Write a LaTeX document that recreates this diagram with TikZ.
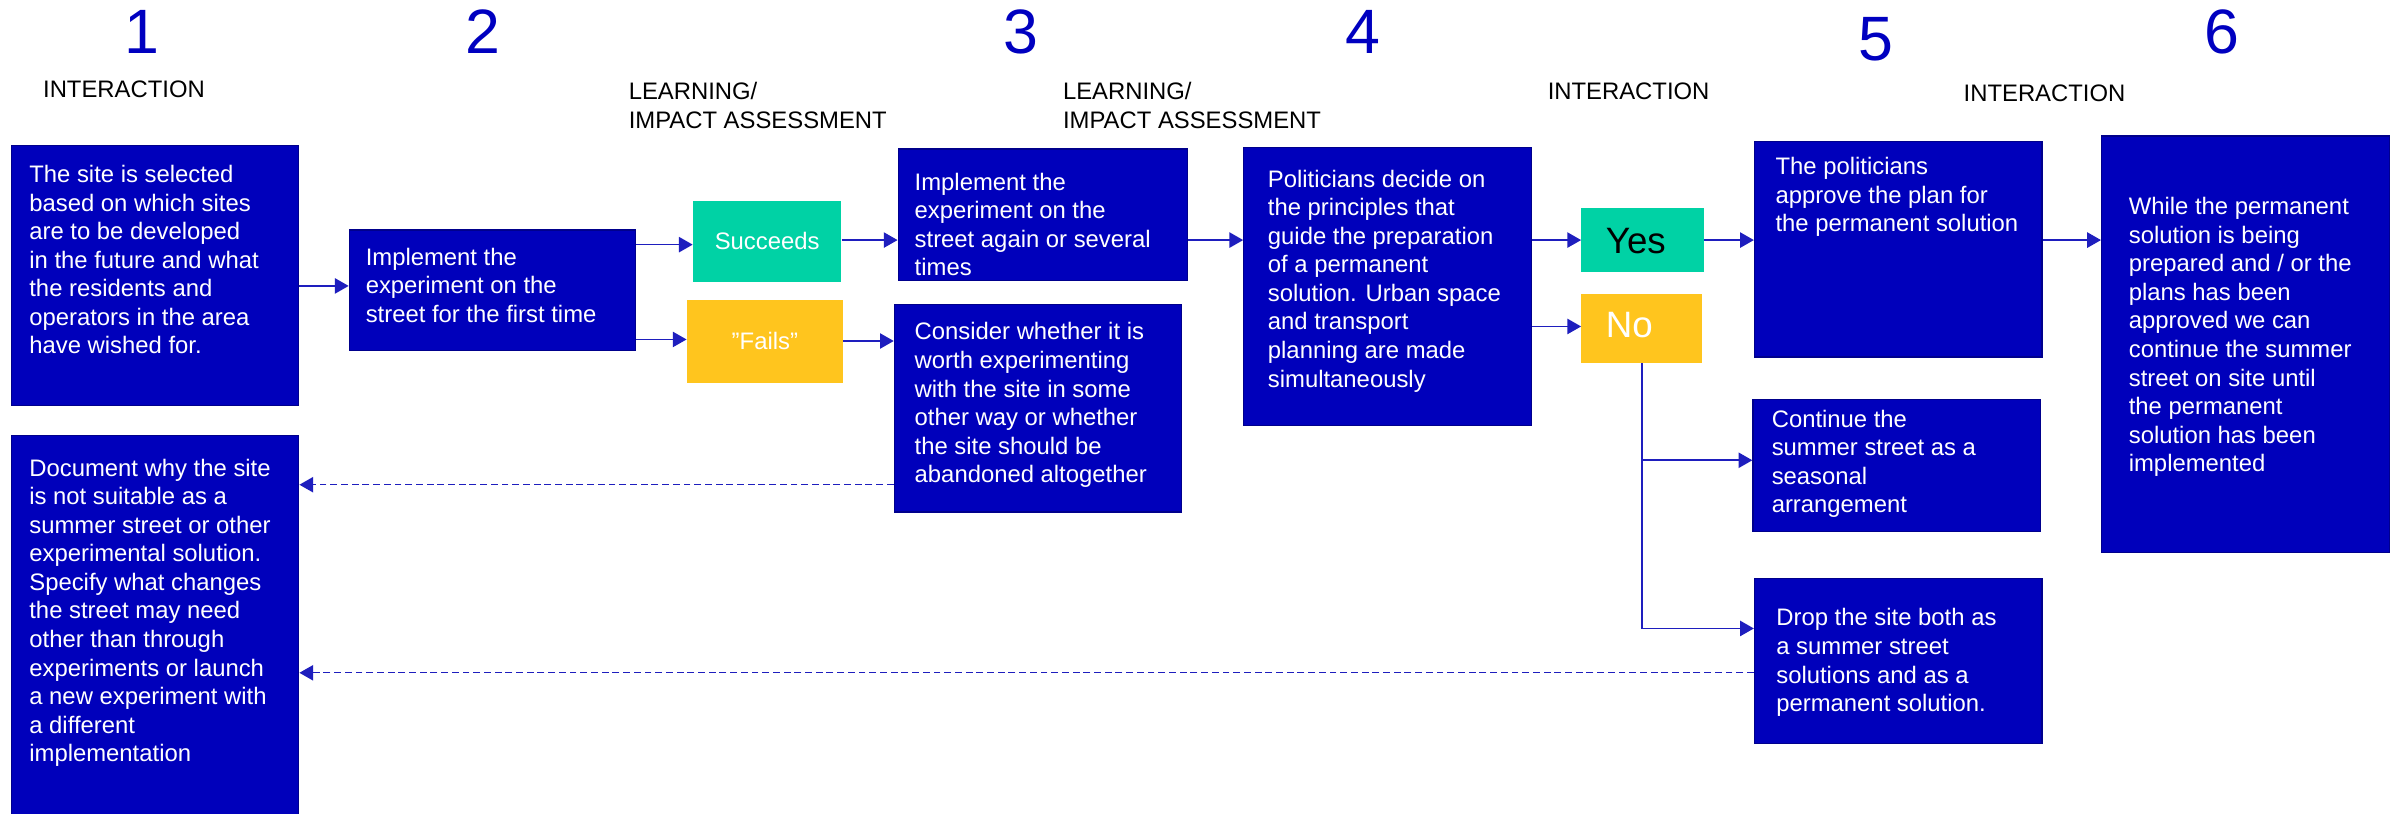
\documentclass[tikz,border=0pt]{standalone}
\usepackage{fontspec}
\setmainfont{Liberation Sans}
\usetikzlibrary{arrows.meta}
\definecolor{boxblue}{RGB}{0,0,187}
\definecolor{boxedge}{RGB}{0,0,140}
\definecolor{numblue}{RGB}{0,0,192}
\definecolor{okgreen}{RGB}{0,210,165}
\definecolor{okyellow}{RGB}{255,197,30}
\definecolor{linkblue}{RGB}{30,30,190}
\tikzset{
  bluebox/.style={draw=boxedge, line width=0.8pt, fill=boxblue, anchor=north west, inner sep=0pt},
  flagbox/.style={anchor=north west, inner sep=0pt, text=white, font=\fontsize{15.6}{18.7}\selectfont},
  boxtext/.style={anchor=north west, inner sep=0pt, text=white, align=left, font=\fontsize{15.6}{18.7}\selectfont},
  head/.style={anchor=north west, inner sep=0pt, align=left, font=\fontsize{15.6}{18.7}\selectfont},
  num/.style={anchor=base, inner sep=0pt, text=numblue, font=\fontsize{41}{45}\selectfont},
  bigword/.style={anchor=base west, inner sep=0pt, font=\fontsize{24}{28}\selectfont},
  arr/.style={draw=linkblue, line width=1pt, -{Triangle[length=9pt,width=10pt]}},
  dasharr/.style={arr, line width=0.9pt, dash pattern=on 4.5pt off 2.5pt},
}
\begin{document}
\begin{tikzpicture}[x=1pt,y=-1pt]
\useasboundingbox (0,0) rectangle (1567.6,532.3);
\fill[white] (0,0) rectangle (1567.6,532.3);

% step numbers
\node[num] (n1) at (92.5,35) {1};
\node[num] (n2) at (316,35) {2};
\node[num] (n3) at (667.5,35) {3};
\node[num] (n4) at (891,35) {4};
\node[num] (n5) at (1227,39.6) {5};
\node[num] (n6) at (1453,35) {6};

% phase headers
\node[head] (h1) at (28,52.8) {INTERACTION};
\node[head] (h2) at (411,53.8) {LEARNING/\\IMPACT ASSESSMENT};
\node[head] (h3) at (695,53.8) {LEARNING/\\IMPACT ASSESSMENT};
\node[head] (h4) at (1012,53.8) {INTERACTION};
\node[head] (h5) at (1284,55) {INTERACTION};

% boxes
\node[bluebox, minimum width=188pt, minimum height=170pt] (b1) at (7,95) {};
\node[bluebox, minimum width=187pt, minimum height=79pt] (b2) at (228,150) {};
\node[flagbox, fill=okgreen, minimum width=97pt, minimum height=53pt] (succ) at (453,131) {Succeeds};
\node[flagbox, fill=okyellow, minimum width=102pt, minimum height=54pt] (fail) at (449,196) {”Fails”};
\node[bluebox, minimum width=189pt, minimum height=86pt] (b3) at (587,97) {};
\node[bluebox, minimum width=188pt, minimum height=136pt] (cons) at (584.5,198.5) {};
\node[bluebox, minimum width=188pt, minimum height=182pt] (b4) at (813,96) {};
\node[anchor=north west, inner sep=0pt, fill=okgreen, minimum width=80pt, minimum height=42pt] (yes) at (1034,136) {};
\node[anchor=north west, inner sep=0pt, fill=okyellow, minimum width=79pt, minimum height=45pt] (no) at (1034,192) {};
\node[bluebox, minimum width=188pt, minimum height=141pt] (b5) at (1147,92) {};
\node[bluebox, minimum width=188.5pt, minimum height=272.5pt] (b6) at (1374,88.5) {};
\node[bluebox, minimum width=188pt, minimum height=86pt] (cont) at (1146,261) {};
\node[bluebox, minimum width=188pt, minimum height=108pt] (drop) at (1147,378) {};
\node[bluebox, minimum width=188pt, minimum height=250pt] (doc) at (7,284.5) {};

% box texts
\node[boxtext] (t1) at ([shift={(12,12.8)}]b1.north west) {The site is selected\\based on which sites\\are to be developed\\in the future and what\\the residents and\\operators in the area\\have wished for.};
\node[boxtext] (t2) at ([shift={(11,11.8)}]b2.north west) {Implement the\\experiment on the\\street for the first time};
\node[boxtext] (t3) at ([shift={(11,15.8)}]b3.north west) {Implement the\\experiment on the\\street again or several\\times};
\node[boxtext] (tc) at ([shift={(13.5,12.3)}]cons.north west) {Consider whether it is\\worth experimenting\\with the site in some\\other way or whether\\the site should be\\abandoned altogether};
\node[boxtext] (t4) at ([shift={(16,14.8)}]b4.north west) {Politicians decide on\\the principles that\\guide the preparation\\of a permanent\\solution. Urban space\\and transport\\planning are made\\simultaneously};
\node[bigword, text=black] (tyes) at (1050,166) {Yes};
\node[bigword, text=white] (tno) at (1050,221) {No};
\node[boxtext] (t5) at ([shift={(14,10.8)}]b5.north west) {The politicians\\approve the plan for\\the permanent solution};
\node[boxtext] (t6) at ([shift={(18,40.3)}]b6.north west) {While the permanent\\solution is being\\prepared and / or the\\plans has been\\approved we can\\continue the summer\\street on site until\\the permanent\\solution has been\\implemented};
\node[boxtext] (tcont) at ([shift={(12.5,6.8)}]cont.north west) {Continue the\\summer street as a\\seasonal\\arrangement};
\node[boxtext] (tdrop) at ([shift={(14.5,19.8)}]drop.north west) {Drop the site both as\\a summer street\\solutions and as a\\permanent solution.};
\node[boxtext] (tdoc) at ([shift={(12,15.3)}]doc.north west) {Document why the site\\is not suitable as a\\summer street or other\\experimental solution.\\Specify what changes\\the street may need\\other than through\\experiments or launch\\a new experiment with\\a different\\implementation};

% connectors
\draw[arr] (b1.east |- 0,187) -- (b2.west |- 0,187);
\draw[arr] (b2.east |- 0,160) -- (succ.west |- 0,160);
\draw[arr] (b2.east |- 0,222) -- (fail.west |- 0,222);
\draw[arr] (succ.east |- 0,157) -- (b3.west |- 0,157);
\draw[arr] (fail.east |- 0,223) -- (cons.west |- 0,223);
\draw[arr] (b3.east |- 0,157) -- (b4.west |- 0,157);
\draw[arr] (b4.east |- 0,157) -- (yes.west |- 0,157);
\draw[arr] (b4.east |- 0,213.5) -- (no.west |- 0,213.5);
\draw[arr] (yes.east |- 0,157) -- (b5.west |- 0,157);
\draw[arr] (b5.east |- 0,157) -- (b6.west |- 0,157);
\draw[arr] (no.south) |- (drop.west |- 0,411);
\coordinate (branch) at (no.south |- 0,301);
\draw[arr] (branch) -- (cont.west |- 0,301);
\draw[dasharr] (cons.west |- 0,317) -- (doc.east |- 0,317);
\draw[dasharr] (drop.west |- 0,440) -- (doc.east |- 0,440);
\end{tikzpicture}
\end{document}
